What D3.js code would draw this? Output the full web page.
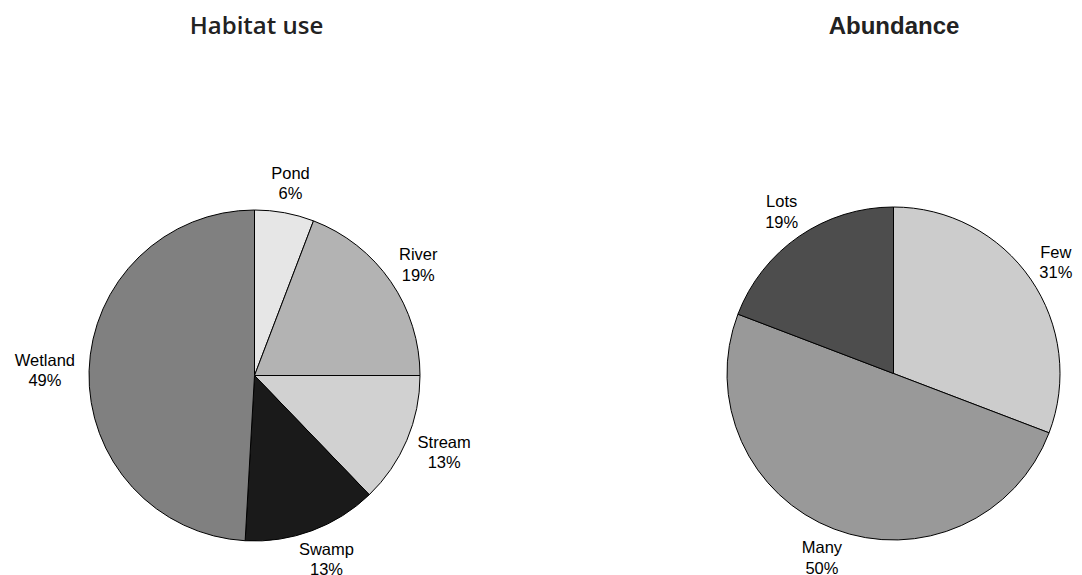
<!DOCTYPE html>
<html>
<head>
<meta charset="utf-8">
<script src="https://cdn.jsdelivr.net/npm/d3@7"></script>
<style>
  body { margin: 0; background: #fff; }
  svg { display: block; }
</style>
</head>
<body>
<div id="chart"></div>
<script>
const habitatLabels = ['Pond', 'River', 'Stream', 'Swamp', 'Wetland'];
const habitatValues = [5.8, 19.2, 12.8, 13.1, 49.1];
const habitatColors = ['#e6e6e6', '#b3b3b3', '#d1d1d1', '#1a1a1a', '#808080'];

const abundanceLabels = ['Few', 'Many', 'Lots'];
const abundanceValues = [30.8, 50.0, 19.2];
const abundanceColors = ['#cccccc', '#999999', '#4d4d4d'];

const width = 1082, height = 575;

const svg = d3.select('#chart')
    .append('svg')
    .attr('width', width)
    .attr('height', height);

function drawPie(title, titleFont, labels, values, colors, cx, cy, r, titleX) {
    const total = d3.sum(values);
    const data = labels.map((l, i) => ({ label: l, value: values[i], color: colors[i] }));

    svg.append('text')
        .attr('x', titleX)
        .attr('y', 34)
        .attr('text-anchor', 'middle')
        .style('font-family', titleFont.family)
        .style('font-weight', titleFont.weight)
        .style('font-size', titleFont.size)
        .style('fill', '#222')
        .text(title);

    const g = svg.append('g')
        .attr('transform', `translate(${cx},${cy})`);

    const pie = d3.pie().sort(null).value(d => d.value);
    const arc = d3.arc().innerRadius(0).outerRadius(r);
    const arcs = pie(data);

    g.selectAll('path')
        .data(arcs)
        .enter().append('path')
        .attr('d', arc)
        .style('fill', d => d.data.color)
        .style('stroke', '#000')
        .style('stroke-width', 1);

    // labels sit just outside the rim, pushed away from the centre
    const R = r * 1.085;
    const lineH = 20.5, capH = 12, blockH = capH + lineH;
    arcs.forEach(d => {
        const a = (d.startAngle + d.endAngle) / 2;
        const ax = R * Math.sin(a), ay = -R * Math.cos(a);
        const t = g.append('text')
            .attr('text-anchor', 'middle')
            .style('font-family', 'Liberation Sans, Arial, sans-serif')
            .style('font-size', '16.5px')
            .style('fill', '#000');
        const t1 = t.append('tspan').text(d.data.label);
        const t2 = t.append('tspan').text(d3.format('.0f')(d.data.value / total * 100) + '%');
        const w = Math.max(t1.node().getComputedTextLength(), t2.node().getComputedTextLength());
        const bx = ax + Math.sin(a) * w / 2;
        const by = ay - Math.cos(a) * blockH / 2;
        const top = by - blockH / 2;
        t1.attr('x', bx).attr('y', top + capH);
        t2.attr('x', bx).attr('y', top + capH + lineH);
    });
}

drawPie('Habitat use', { family: 'Open Sans, sans-serif', weight: 600, size: '24px' },
    habitatLabels, habitatValues, habitatColors, 254.5, 375.5, 165.5, 256.5);
drawPie('Abundance', { family: 'Liberation Sans, Arial, sans-serif', weight: 'bold', size: '24px' },
    abundanceLabels, abundanceValues, abundanceColors, 893.5, 373.5, 166.5, 894);
</script>
</body>
</html>
